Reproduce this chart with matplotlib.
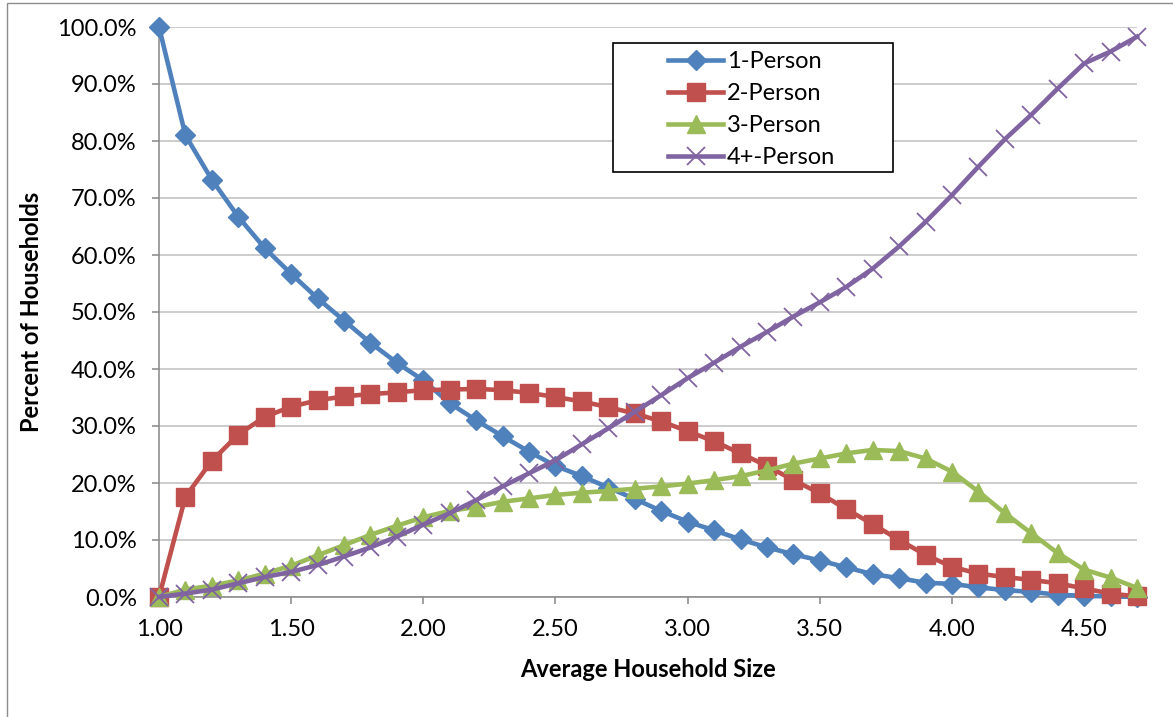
import numpy as np
from matplotlib import pyplot as plt
from matplotlib.patches import Rectangle
from matplotlib.ticker import FuncFormatter, MultipleLocator

plt.rcParams['font.family'] = ['Lato', 'DejaVu Sans']

fontSize = 17
lineWidth = 3.3

# household size steps, 1.0 .. 4.7
avg_size = [1.0, 1.1, 1.2, 1.3, 1.4, 1.5, 1.6, 1.7, 1.8, 1.9,
            2.0, 2.1, 2.2, 2.3, 2.4, 2.5, 2.6, 2.7, 2.8, 2.9,
            3.0, 3.1, 3.2, 3.3, 3.4, 3.5, 3.6, 3.7, 3.8, 3.9,
            4.0, 4.1, 4.2, 4.3, 4.4, 4.5, 4.6, 4.7]

# share of households (%)
one_person = [100.0, 81.0, 73.2, 66.7, 61.2, 56.7, 52.4, 48.5, 44.6, 41.1,
              38.0, 34.0, 31.0, 28.2, 25.5, 23.0, 21.2, 19.2, 17.2, 15.1,
              13.2, 11.7, 10.1, 8.7, 7.5, 6.4, 5.2, 4.0, 3.3, 2.5,
              2.3, 1.7, 1.2, 0.9, 0.4, 0.2, 0.1, 0.0]
two_person = [0.0, 17.6, 23.9, 28.5, 31.6, 33.4, 34.5, 35.2, 35.6, 35.9,
              36.3, 36.4, 36.5, 36.3, 35.8, 35.1, 34.3, 33.3, 32.2, 30.8,
              29.1, 27.3, 25.2, 23.0, 20.5, 18.2, 15.4, 12.8, 10.0, 7.4,
              5.3, 4.1, 3.5, 3.0, 2.4, 1.5, 0.6, 0.1]
three_person = [0.0, 1.3, 2.0, 2.9, 4.1, 5.5, 7.3, 9.1, 10.9, 12.5,
                14.0, 15.1, 15.8, 16.7, 17.3, 17.9, 18.3, 18.6, 19.0, 19.4,
                19.9, 20.5, 21.2, 22.2, 23.4, 24.3, 25.2, 25.8, 25.6, 24.3,
                22.0, 18.5, 14.7, 11.2, 7.7, 4.8, 3.4, 1.6]
four_plus = [0.0, 0.6, 1.3, 2.4, 3.5, 4.4, 5.6, 7.1, 8.7, 10.6,
             12.7, 14.7, 17.0, 19.4, 21.7, 24.0, 26.8, 29.6, 32.5, 35.4,
             38.4, 41.1, 43.9, 46.5, 49.2, 51.7, 54.4, 57.6, 61.5, 65.8,
             70.5, 75.5, 80.3, 84.6, 89.2, 93.6, 95.7, 98.3]

labels = ['1-Person', '2-Person', '3-Person', '4+-Person']

c1 = '#4F81BD'
c2 = '#C0504D'
c3 = '#9BBB59'
c4 = '#8064A2'

fig = plt.figure(figsize=(11.73, 7.17), dpi=100)
ax = fig.add_axes([159 / 1173, 1 - 597 / 717, 978 / 1173, 570 / 717])

ax.plot(avg_size, one_person, color=c1, lw=lineWidth, marker='D', markersize=10.5,
        label=labels[0], clip_on=False, zorder=3)
ax.plot(avg_size, two_person, color=c2, lw=lineWidth, marker='s', markersize=12.5,
        label=labels[1], clip_on=False, zorder=3)
ax.plot(avg_size, three_person, color=c3, lw=lineWidth, marker='^', markersize=13,
        label=labels[2], clip_on=False, zorder=3)
ax.plot(avg_size, four_plus, color=c4, lw=lineWidth, marker='x', markersize=13,
        markeredgewidth=1.3, label=labels[3], clip_on=False, zorder=3)

ax.set_xlim(1.0, 4.7)
ax.set_ylim(0, 100)
ax.xaxis.set_major_locator(MultipleLocator(0.5))
ax.yaxis.set_major_locator(MultipleLocator(10))
ax.xaxis.set_major_formatter(FuncFormatter(lambda v, p: f'{v:.2f}'))
ax.yaxis.set_major_formatter(FuncFormatter(lambda v, p: f'{v:.1f}%'))

ax.grid(axis='y', color='#BFBFBF', lw=1.1)
ax.set_axisbelow(True)
for s in ['top', 'right']:
    ax.spines[s].set_visible(False)
for s in ['left', 'bottom']:
    ax.spines[s].set_color('#868686')
    ax.spines[s].set_linewidth(1.1)
ax.tick_params(axis='both', direction='out', length=5, width=1.1, color='#868686',
               labelsize=fontSize, pad=11)

ax.set_xlabel('Average Household Size', fontsize=fontSize, fontweight='bold', labelpad=13)
ax.set_ylabel('Percent of Households', fontsize=fontSize, fontweight='bold', labelpad=10)

# legend box drawn separately so the entries can sit centred in it
box = Rectangle((0.4639, 0.7456), 0.2866, 0.2263, transform=ax.transAxes,
                facecolor='white', edgecolor='black', lw=1.2, zorder=5)
ax.add_patch(box)
leg = ax.legend(loc='upper left', bbox_to_anchor=(0.5204, 0.958), frameon=False,
                fontsize=fontSize, borderpad=0, handlelength=2.35, handletextpad=0.15,
                labelspacing=0.47, borderaxespad=0)
leg.set_zorder(6)

# outer chart border
fig.patches.append(Rectangle((7 / 1173, -0.1), 1.2, 1.1 - 3 / 717,
                             transform=fig.transFigure, fill=False,
                             edgecolor='#8C8C8C', lw=1.0))

plt.savefig('out.png', dpi=100)
plt.close()
